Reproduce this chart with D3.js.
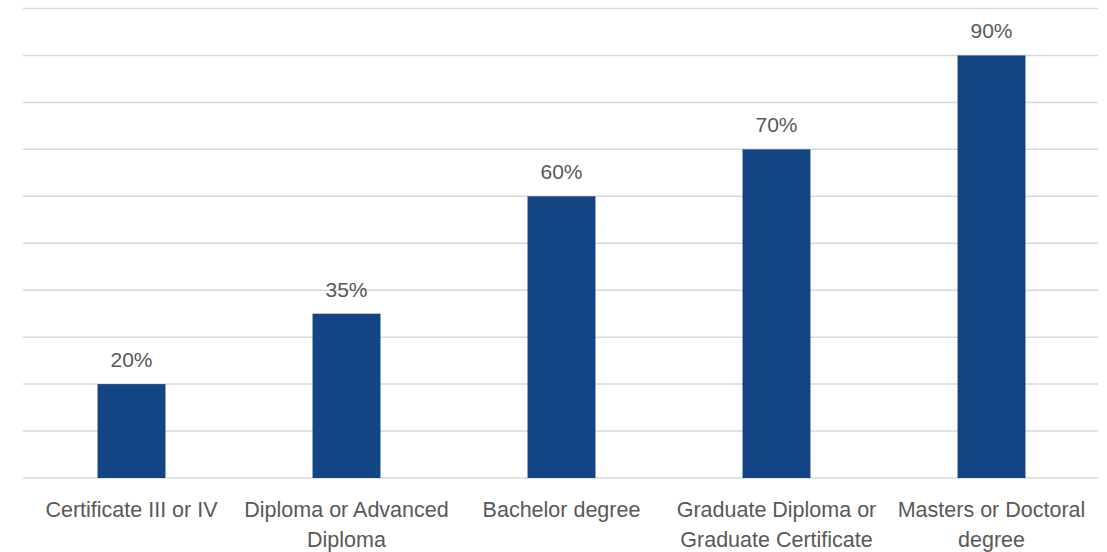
<!DOCTYPE html>
<html>
<head>
<meta charset="utf-8">
<script src="https://cdn.jsdelivr.net/npm/d3@7"></script>
<style>
  body { margin: 0; background: #fff; }
  text { font-family: "Liberation Sans", Arial, sans-serif; fill: #595959; }
</style>
</head>
<body>
<svg id="chart" width="1107" height="552"></svg>
<script>
// category labels, wrapped the way the chart shows them
const categories = [
  ['Certificate III or IV'],
  ['Diploma or Advanced', 'Diploma'],
  ['Bachelor degree'],
  ['Graduate Diploma or', 'Graduate Certificate'],
  ['Masters or Doctoral', 'degree']
];
const values = [20, 35, 60, 70, 90];
const gridTicks = [0, 10, 20, 30, 40, 50, 60, 70, 80, 90, 100];

const svg = d3.select('#chart');
const plotLeft = 23, plotRight = 1098, plotTop = 8.5, plotBottom = 478;

const x = d3.scaleBand()
  .domain(d3.range(categories.length))
  .range([plotLeft + 1, plotRight + 1])
  .paddingInner(0)
  .paddingOuter(0);

const y = d3.scaleLinear().domain([0, 100]).range([plotBottom, plotTop]);

const barW = x.bandwidth() * 0.316;

// gridlines
svg.append('g')
  .selectAll('line')
  .data(gridTicks)
  .join('line')
  .attr('x1', plotLeft)
  .attr('x2', plotRight)
  .attr('y1', d => y(d))
  .attr('y2', d => y(d))
  .attr('stroke', '#d9d9d9')
  .attr('stroke-width', 1.5);

// bars
svg.append('g')
  .selectAll('rect')
  .data(values)
  .join('rect')
  .attr('x', (d, i) => x(i) + x.bandwidth() / 2 - barW / 2)
  .attr('width', barW)
  .attr('y', d => y(d))
  .attr('height', d => y(0) - y(d))
  .attr('fill', '#134484');

// value labels
svg.append('g')
  .selectAll('text')
  .data(values)
  .join('text')
  .attr('x', (d, i) => x(i) + x.bandwidth() / 2)
  .attr('y', d => y(d) - 17)
  .attr('text-anchor', 'middle')
  .style('font-size', '21px')
  .text(d => d + '%');

// category labels
const cats = svg.append('g')
  .selectAll('text')
  .data(categories)
  .join('text')
  .attr('x', (d, i) => x(i) + x.bandwidth() / 2)
  .attr('y', 517)
  .attr('text-anchor', 'middle')
  .style('font-size', '21.5px');

cats.selectAll('tspan')
  .data(d => d)
  .join('tspan')
  .attr('x', function () { return d3.select(this.parentNode).attr('x'); })
  .attr('dy', (d, i) => i === 0 ? 0 : 30)
  .text(d => d);
</script>
</body>
</html>
